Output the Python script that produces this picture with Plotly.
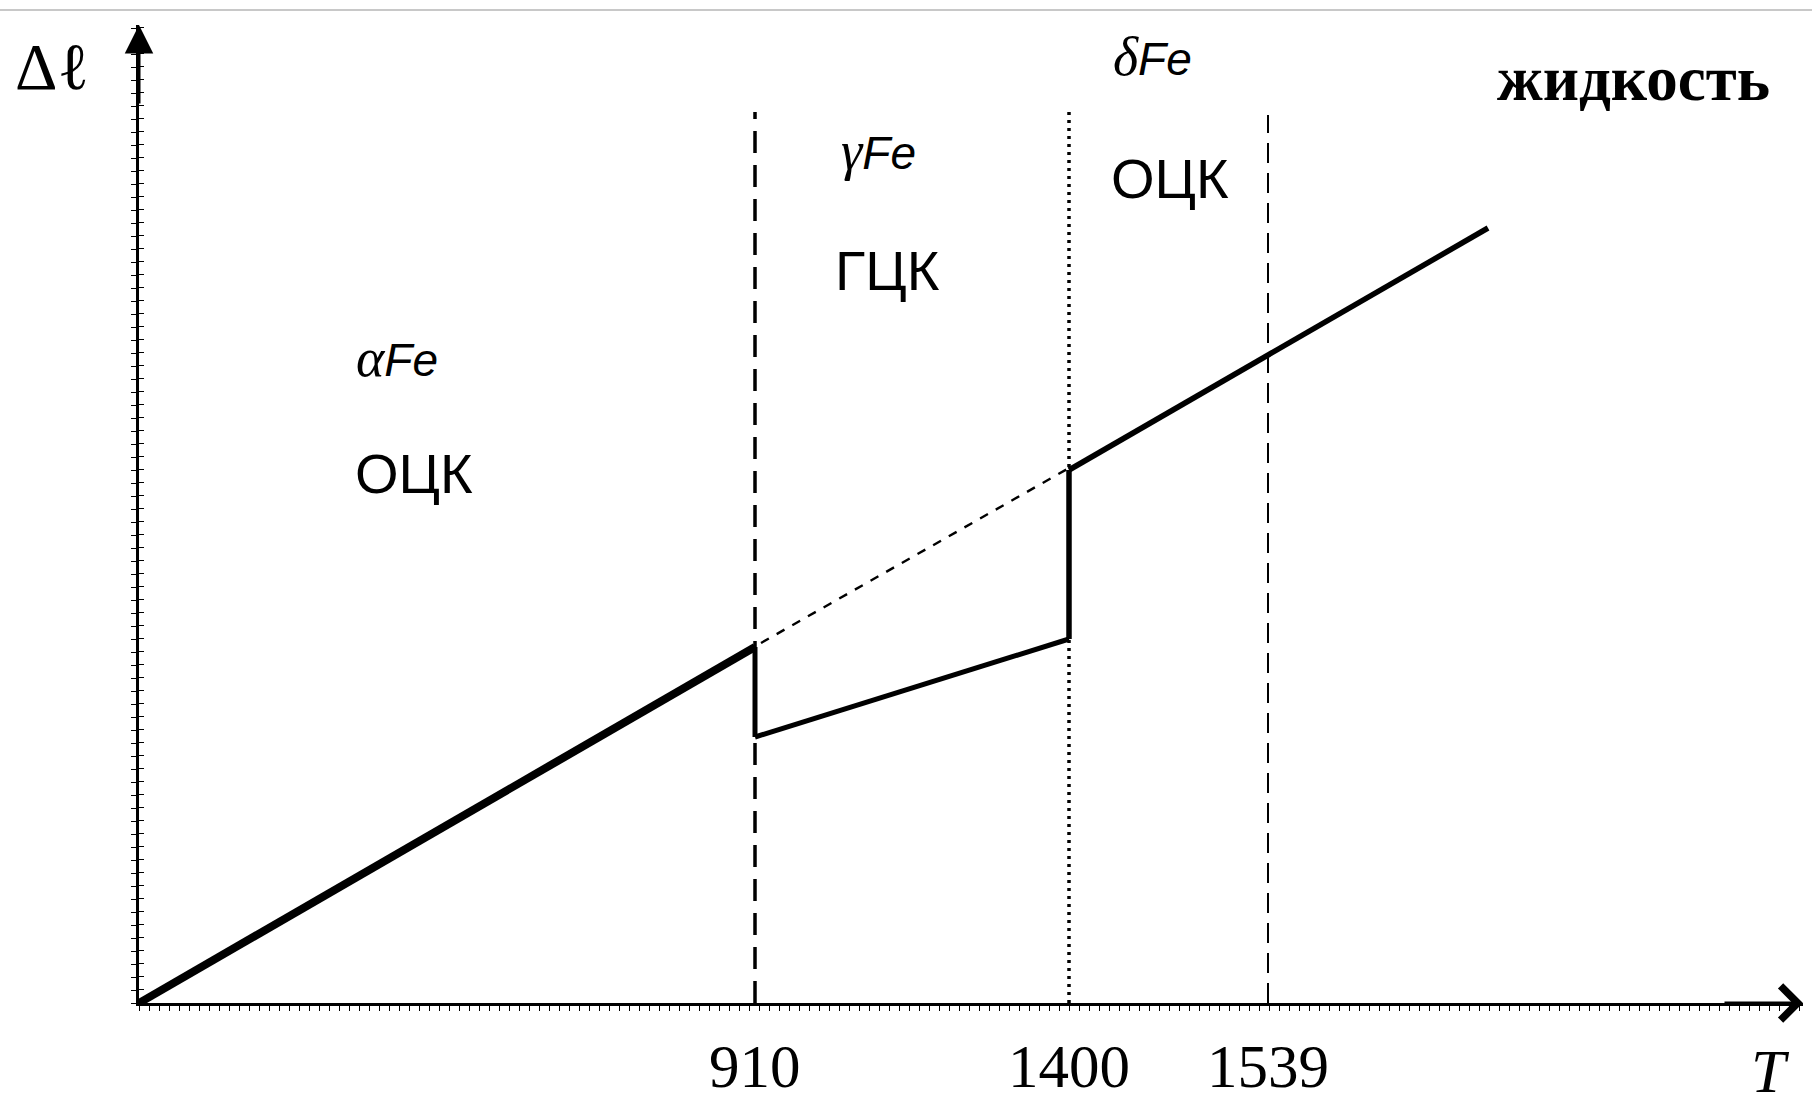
import plotly.graph_objects as go

# ---- data (drawing units measured from the origin of the sketch) ----
transition_labels = ["910", "1400", "1539"]
transition_pos = [616, 930, 1129]
boundary_top = [891, 891, 888]

alpha_x = [0, 616]
alpha_y = [0, 356]
drop_x = [616, 616]
drop_y = [356, 266]
gamma_x = [616, 930]
gamma_y = [266, 364]
rise_x = [930, 930]
rise_y = [364, 533]
delta_x = [930, 1349]
delta_y = [533, 775]
ext_x = [622, 930]
ext_y = [360, 535]

X_MAX = 1664
Y_MAX = 978

SERIF = "Liberation Serif, Times New Roman, serif"
SANS = "Liberation Sans, Arial, sans-serif"

fig = go.Figure()

# phase boundaries
b_styles = [dict(width=3.5, dash="22px,12px"),
            dict(width=3.5, dash="3px,5px"),
            dict(width=2, dash="20px,10px")]
for pos, top, st in zip(transition_pos, boundary_top, b_styles):
    fig.add_trace(go.Scatter(x=[pos, pos], y=[0, top], mode="lines",
                             line=dict(color="black", **st),
                             hoverinfo="skip", showlegend=False))

# dashed extension of alpha line
fig.add_trace(go.Scatter(x=ext_x, y=ext_y, mode="lines",
                         line=dict(color="black", width=2.4, dash="9px,9px"),
                         hoverinfo="skip", showlegend=False))

for xs, ys, w in [(alpha_x, alpha_y, 8), (drop_x, drop_y, 5),
                  (gamma_x, gamma_y, 5), (rise_x, rise_y, 5.5),
                  (delta_x, delta_y, 5.5)]:
    fig.add_trace(go.Scatter(x=xs, y=ys, mode="lines",
                             line=dict(color="black", width=w),
                             hoverinfo="skip", showlegend=False))

ann = []
# axis arrows
ann.append(dict(x=0, y=Y_MAX, ax=0, ay=Y_MAX - 80, xref="x", yref="y",
                axref="x", ayref="y", showarrow=True, arrowhead=2,
                arrowsize=1.9, arrowwidth=3, arrowcolor="black", text=""))
ann.append(dict(x=X_MAX, y=0, ax=X_MAX - 80, ay=0, xref="x", yref="y",
                axref="x", ayref="y", showarrow=True, arrowhead=4,
                arrowsize=2.2, arrowwidth=3, arrowcolor="black", text=""))

# transition labels
for pos, lab in zip(transition_pos, transition_labels):
    ann.append(dict(x=pos, y=-63 / Y_MAX, xref="x", yref="paper",
                    text=lab, showarrow=False, xanchor="center",
                    yanchor="middle", font=dict(family=SERIF, size=61, color="black")))

# axis titles
ann.append(dict(x=-87 / X_MAX, y=(1003 - 66) / Y_MAX, xref="paper", yref="paper",
                text="Δℓ", showarrow=False, xanchor="center", yanchor="middle",
                font=dict(family=SERIF, size=66, color="black")))
ann.append(dict(x=(1770 - 139) / X_MAX, y=-(1107 - 1003) / Y_MAX, xref="paper",
                yref="paper", text="<i>T</i>", showarrow=False, xanchor="center",
                yanchor="bottom", font=dict(family=SERIF, size=62, color="black")))

def phase(greek):
    return ('<span style="font-family:Liberation Serif;font-size:54px"><i>%s</i></span>'
            '<i>Fe</i>' % greek)

texts = [
    (258, 645, phase("α"), SANS, 46),
    (275, 530, "ОЦК", SANS, 56),
    (739, 852, phase("γ"), SANS, 46),
    (748, 733, "ГЦК", SANS, 56),
    (1013, 946, phase("δ"), SANS, 46),
    (1031, 825, "ОЦК", SANS, 56),
    (1494, 924, "<b>жидкость</b>", SERIF, 63),
]
for x, y, t, fam, sz in texts:
    ann.append(dict(x=x, y=y, xref="x", yref="y", text=t, showarrow=False,
                    xanchor="center", yanchor="middle",
                    font=dict(family=fam, size=sz, color="black")))

fig.update_layout(
    width=1812, height=1108,
    margin=dict(l=139, r=9, t=25, b=105, pad=0),
    paper_bgcolor="white", plot_bgcolor="white",
    annotations=ann,
    shapes=[dict(type="line", xref="paper", yref="paper",
                 x0=-139 / X_MAX, x1=(1812 - 139) / X_MAX,
                 y0=(1003 - 10) / Y_MAX, y1=(1003 - 10) / Y_MAX,
                 line=dict(color="#c8c8c8", width=2))],
    xaxis=dict(range=[0, X_MAX], showgrid=False, zeroline=False,
               showline=True, linecolor="black", linewidth=3,
               ticks="outside", dtick=10, tick0=0, ticklen=5,
               tickwidth=1, tickcolor="black", showticklabels=False,
               fixedrange=True),
    yaxis=dict(range=[0, Y_MAX], showgrid=False, zeroline=False,
               showline=True, linecolor="black", linewidth=3,
               ticks="outside", dtick=13, tick0=0, ticklen=5,
               tickwidth=1, tickcolor="black", showticklabels=False,
               minor=dict(ticks="inside", dtick=13, tick0=0.5, ticklen=5,
                          tickwidth=1, tickcolor="black"),
               fixedrange=True),
)

fig.write_html("out.html",
               config={"displayModeBar": False},
               post_script="document.body.style.margin='0';"
                           "document.body.style.overflow='hidden';")
